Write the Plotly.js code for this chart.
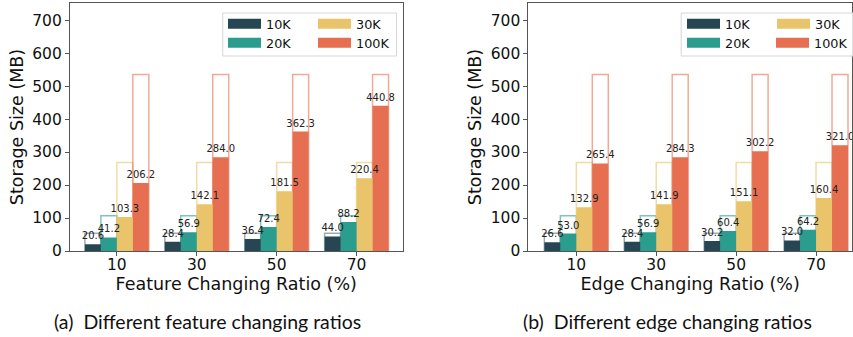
<!DOCTYPE html>
<html><head><meta charset="utf-8">
<script src="https://cdn.plot.ly/plotly-3.0.1.min.js"></script>
<style>html,body{margin:0;padding:0;background:#fff}</style></head>
<body>
<div id="chart" style="width:853px;height:337px"></div>
<script>
// ---- data ----
const ratios = ['10', '30', '50', '70'];
const seriesNames = ['10K', '20K', '30K', '100K'];
const feat10K = [20.6, 28.4, 36.4, 44.0];
const feat20K = [41.2, 56.9, 72.4, 88.2];
const feat30K = [103.3, 142.1, 181.5, 220.4];
const feat100K = [206.2, 284.0, 362.3, 440.8];
const edge10K = [26.6, 28.4, 30.2, 32.0];
const edge20K = [53.0, 56.9, 60.4, 64.2];
const edge30K = [132.9, 141.9, 151.1, 160.4];
const edge100K = [265.4, 284.3, 302.2, 321.0];
const capacity = [53.5, 107, 268, 535];   // outline (full-snapshot) heights per series
const yTicks = [0, 100, 200, 300, 400, 500, 600, 700];
const captionA = '(a)  Different feature changing ratios';
const captionB = '(b)  Different edge changing ratios';

// ---- styling ----
const colors = ['#264653', '#2a9d8f', '#e9c46a', '#e76f51'];
const outlineColors = ['rgba(38,70,83,0.45)', 'rgba(42,157,143,0.6)', 'rgba(233,196,106,0.6)', 'rgba(231,111,81,0.6)'];
const W = 853, H = 337;
const px = v => v / W, py = v => 1 - v / H;

const featSeries = [feat10K, feat20K, feat30K, feat100K];
const edgeSeries = [edge10K, edge20K, edge30K, edge100K];

// legend slot (column x in px, row centre y in px) per series, per panel
const legendCols = [[223, 223, 313, 313], [682, 682, 772, 772]];
const legendRows = [24, 43, 24, 43];

const traces = [];
const legends = {};
let legIdx = 1;
function addPanel(series, xa, ya, panel) {
  seriesNames.forEach((name, k) => {
    traces.push({
      type: 'bar', x: ratios, y: ratios.map(() => capacity[k]),
      xaxis: xa, yaxis: ya, offsetgroup: name,
      marker: {color: 'rgba(0,0,0,0)', line: {color: outlineColors[k], width: 1.5}},
      showlegend: false, hoverinfo: 'skip'
    });
  });
  for (let k = seriesNames.length - 1; k >= 0; k--) {
    traces.push({
      type: 'bar', x: ratios, y: series[k], name: seriesNames[k],
      xaxis: xa, yaxis: ya, offsetgroup: seriesNames[k],
      marker: {color: colors[k], line: {width: 0}},
      text: series[k].map(v => v.toFixed(1)),
      textposition: 'outside', textangle: 0, constraintext: 'none', cliponaxis: false,
      textfont: {family: 'DejaVu Sans', size: 10, color: '#222'},
      showlegend: false
    });
  }
  seriesNames.forEach((name, k) => {
    const key = legIdx === 1 ? 'legend' : 'legend' + legIdx;
    legends[key] = {
      x: px(legendCols[panel][k]), xanchor: 'left', y: py(legendRows[k]), yanchor: 'middle',
      orientation: 'v', bgcolor: 'rgba(0,0,0,0)', borderwidth: 0, itemwidth: 33,
      font: {family: 'DejaVu Sans', size: 12.8, color: '#111'},
      itemclick: false, itemdoubleclick: false
    };
    traces.push({
      type: 'scatter', mode: 'lines', x: [null], y: [null], name: name,
      xaxis: xa, yaxis: ya,
      line: {color: colors[k], width: 10},
      legend: key, showlegend: true, hoverinfo: 'skip'
    });
    legIdx++;
  });
}
addPanel(featSeries, 'x', 'y', 0);
addPanel(edgeSeries, 'x2', 'y2', 1);

function xAxis(domain, range, title, anchor) {
  return {
    domain: domain, range: range, type: 'category', anchor: anchor,
    showline: true, mirror: true, linecolor: '#555', linewidth: 1,
    ticks: 'outside', ticklen: 4, tickcolor: '#555', ticklabelstandoff: -5,
    tickfont: {family: 'DejaVu Sans', size: 15.5, color: '#111'},
    title: {text: title, font: {family: 'DejaVu Sans', size: 17.5, color: '#111'}, standoff: 0},
    showgrid: false, zeroline: false, fixedrange: true
  };
}
function yAxis(anchor) {
  return {
    domain: [1 - 251 / H, 1 - 3 / H], range: [0, 752], anchor: anchor,
    tickvals: yTicks, ticks: 'outside', ticklen: 4, tickcolor: '#555',
    showline: true, mirror: true, linecolor: '#555', linewidth: 1,
    tickfont: {family: 'DejaVu Sans', size: 15.5, color: '#111'},
    title: {text: 'Storage Size (MB)', font: {family: 'DejaVu Sans', size: 17.5, color: '#111'}, standoff: 4},
    showgrid: false, zeroline: false, fixedrange: true
  };
}

const layout = Object.assign({
  width: W, height: H, margin: {l: 0, r: 0, t: 0, b: 0},
  paper_bgcolor: '#fff', plot_bgcolor: '#fff',
  barmode: 'group', bargap: 0.2, bargroupgap: 0,
  font: {family: 'DejaVu Sans', color: '#111'},
  xaxis: xAxis([70 / W, 403 / W], [-0.5875, 3.575], 'Feature Changing Ratio (%)', 'y'),
  yaxis: yAxis('x'),
  xaxis2: xAxis([529 / W, 1], [-0.6, 3.45], 'Edge Changing Ratio (%)', 'y2'),
  yaxis2: yAxis('x2'),
  shapes: [
    {type: 'rect', xref: 'paper', yref: 'paper', x0: px(223), x1: px(397), y0: py(56), y1: py(13),
     line: {color: '#d6d6d6', width: 1}, fillcolor: 'rgba(255,255,255,0.8)', layer: 'above'},
    {type: 'rect', xref: 'paper', yref: 'paper', x0: px(682), x1: px(870), y0: py(56), y1: py(13),
     line: {color: '#d6d6d6', width: 1}, fillcolor: 'rgba(255,255,255,0.8)', layer: 'above'}
  ],
  annotations: [
    {text: captionA, xref: 'paper', yref: 'paper', x: px(208), y: py(321), xanchor: 'center', yanchor: 'middle',
     showarrow: false, font: {family: 'Lato', size: 19.5, color: '#111'}},
    {text: captionB, xref: 'paper', yref: 'paper', x: px(668), y: py(321), xanchor: 'center', yanchor: 'middle',
     showarrow: false, font: {family: 'Lato', size: 19.5, color: '#111'}}
  ]
}, legends);

Plotly.newPlot('chart', traces, layout, {staticPlot: true, displayModeBar: false});
</script>
</body></html>
